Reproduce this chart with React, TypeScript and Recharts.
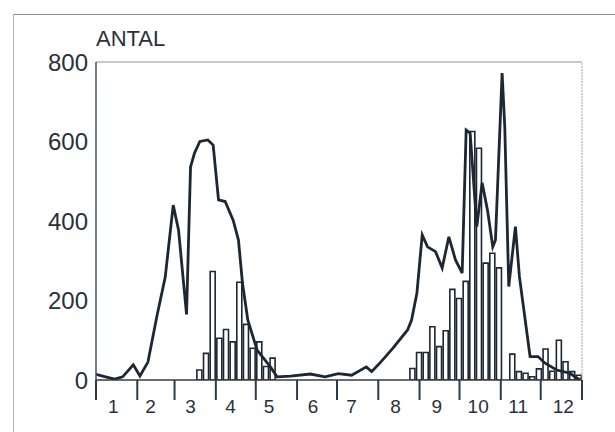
import { ComposedChart, Bar, Line, XAxis, YAxis, ReferenceLine } from 'recharts';

// x axis is day of year; month boundaries carry the tick lines
const monthStarts = [0, 31, 59, 90, 120, 151, 181, 212, 243, 273, 304, 334, 365];
const monthLabels = ['1', '2', '3', '4', '5', '6', '7', '8', '9', '10', '11', '12'];
const monthLabelDays = [13, 41, 71, 101, 130, 163, 192, 225, 256, 287, 317, 351];
const yTicks = [0, 200, 400, 600, 800];

// bars: counts per 5-day period (73 periods)
const pentadCounts = [
  0, 0, 0, 0, 0, 0, 0, 0, 0, 0, 0, 0, 0, 0, 0,
  25, 67, 273, 105, 127, 96, 246, 140, 80, 96, 34, 55,
  0, 0, 0, 0, 0, 0, 0, 0, 0, 0, 0, 0, 0, 0, 0, 0, 0, 0, 0, 0,
  29, 69, 69, 134, 84, 124, 228, 205, 248, 625, 583, 294, 319, 282, 0,
  65, 21, 17, 8, 28, 78, 22, 100, 46, 21, 12,
];

// line
const lineDays = [
  0, 5, 14, 20, 28, 33, 39, 46, 52, 58, 62, 68, 71, 74, 78, 84, 88, 92, 97, 103, 107, 110, 114, 121,
  131, 136, 146, 161, 172, 182, 192, 203, 207, 213, 223, 234, 237, 241, 245, 249, 255, 260, 265, 270,
  275, 278, 281, 286, 290, 294, 298, 300, 305, 307, 310, 315, 318, 326, 332, 337, 346, 356, 361, 364,
];
const lineValues = [
  14, 10, 2, 8, 38, 10, 45, 165, 259, 440, 377, 165, 536, 571, 600, 604, 591, 453, 449, 402, 352, 244, 151, 75,
  33, 8, 10, 15, 8, 16, 12, 33, 21, 42, 80, 126, 151, 218, 365, 335, 323, 282, 360, 302,
  269, 629, 621, 386, 496, 428, 335, 352, 772, 637, 235, 386, 260, 59, 59, 43, 25, 17, 5, 0,
];

const barData = pentadCounts.map((count, i) => ({ day: i * 5 + 2.5, count }));
const lineData = lineDays.map((day, i) => ({ day, antal: lineValues[i] }));

const ink = '#1c2734';
const font = '"Liberation Sans", Arial, sans-serif';

export default function App() {
  return (
    <div style={{ position: 'absolute', left: 0, top: 0, width: 615, height: 432, background: '#fff', overflow: 'hidden' }}>
      <div
        style={{
          position: 'absolute',
          left: 13,
          top: 14,
          width: 620,
          height: 430,
          borderTop: '1.5px solid #8e8e8e',
          borderLeft: '1.5px solid #b0b0b0',
        }}
      />
      <div
        style={{
          position: 'absolute',
          left: 96,
          top: 28,
          fontFamily: font,
          fontSize: 22,
          color: '#2b3038',
          lineHeight: 1,
        }}
      >
        ANTAL
      </div>
      <ComposedChart
        width={615}
        height={432}
        data={barData}
        margin={{ top: 62, right: 33, left: 0, bottom: 0 }}
        style={{ position: 'absolute', left: 0, top: 0, fontFamily: font }}
      >
        <XAxis
          xAxisId="a"
          dataKey="day"
          type="number"
          domain={[0, 365]}
          ticks={monthStarts}
          tick={() => null}
          tickSize={20}
          tickLine={{ stroke: '#2a3c4c', strokeWidth: 2 }}
          axisLine={{ stroke: '#3a3a3a', strokeWidth: 1.5 }}
          height={20}
          allowDataOverflow
        />
        <XAxis
          xAxisId="b"
          dataKey="day"
          type="number"
          domain={[0, 365]}
          ticks={monthLabelDays}
          tickFormatter={(v: number) => monthLabels[monthLabelDays.indexOf(v)] ?? ''}
          tick={{ fill: '#2b3038', fontSize: 19 }}
          tickLine={false}
          axisLine={false}
          tickSize={0}
          tickMargin={0}
          height={32}
          allowDataOverflow
        />
        <YAxis
          type="number"
          domain={[0, 800]}
          ticks={yTicks}
          width={96}
          tick={{ fill: '#2b3038', fontSize: 24 }}
          tickLine={false}
          axisLine={{ stroke: '#3d5566', strokeWidth: 1.5 }}
          allowDataOverflow
        />
        <ReferenceLine xAxisId="a" y={800} stroke="#b4b4b4" strokeWidth={1.5} />
        <ReferenceLine xAxisId="a" x={365} stroke="#b4b4b4" strokeWidth={1.2} strokeDasharray="2 1" />
        <Bar
          xAxisId="a"
          dataKey="count"
          barSize={5}
          fill="#ffffff"
          stroke={ink}
          strokeWidth={1.6}
          isAnimationActive={false}
        />
        <Line
          xAxisId="b"
          data={lineData}
          dataKey="antal"
          type="linear"
          stroke={ink}
          strokeWidth={2.8}
          dot={false}
          activeDot={false}
          isAnimationActive={false}
        />
      </ComposedChart>
    </div>
  );
}
